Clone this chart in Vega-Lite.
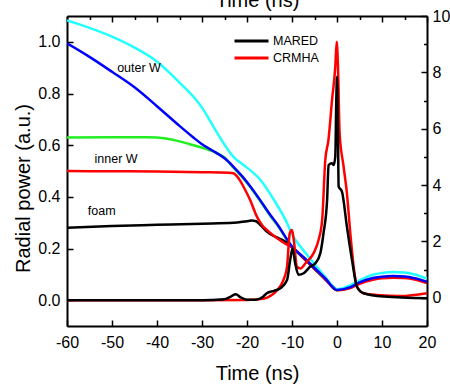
{
  "$schema": "https://vega.github.io/schema/vega-lite/v6.json",
  "width": 360,
  "height": 310,
  "autosize": "none",
  "padding": {"left": 67, "top": 16, "right": 23, "bottom": 59},
  "background": "white",
  "config": {
    "font": "Liberation Sans",
    "view": {"stroke": null},
    "axis": {
      "grid": false,
      "labelFlush": false,
      "labelOverlap": false,
      "domainColor": "#000000",
      "domainWidth": 2,
      "tickColor": "#000000",
      "tickWidth": 1.5,
      "labelFont": "Liberation Sans",
      "labelFontSize": 16,
      "labelColor": "#000000",
      "titleFont": "Liberation Sans",
      "titleFontSize": 20,
      "titleFontWeight": "normal",
      "titleColor": "#000000"
    }
  },
  "datasets": {
    "traj": [
      {"t": -60, "r": 5.69, "s": "inner W (green)"}, {"t": -50, "r": 5.70, "s": "inner W (green)"}, {"t": -42, "r": 5.70, "s": "inner W (green)"}, {"t": -38, "r": 5.65, "s": "inner W (green)"}, {"t": -35, "r": 5.55, "s": "inner W (green)"}, {"t": -32, "r": 5.42, "s": "inner W (green)"}, {"t": -29, "r": 5.28, "s": "inner W (green)"}, {"t": -27, "r": 5.16, "s": "inner W (green)"}, {"t": -25, "r": 4.98, "s": "inner W (green)"}, {"t": -23, "r": 4.62, "s": "inner W (green)"}, {"t": -21, "r": 4.27, "s": "inner W (green)"}, {"t": -19, "r": 3.87, "s": "inner W (green)"}, {"t": -17, "r": 3.42, "s": "inner W (green)"}, {"t": -15, "r": 2.95, "s": "inner W (green)"}, {"t": -13, "r": 2.52, "s": "inner W (green)"}, {"t": -11, "r": 2.02, "s": "inner W (green)"}, {"t": -10, "r": 1.80, "s": "inner W (green)"}, {"t": -7.5, "r": 1.43, "s": "inner W (green)"}, {"t": -5, "r": 1.04, "s": "inner W (green)"}, {"t": -2.5, "r": 0.65, "s": "inner W (green)"}, {"t": 0, "r": 0.27, "s": "inner W (green)"}, {"t": 3, "r": 0.36, "s": "inner W (green)"}, {"t": 5, "r": 0.53, "s": "inner W (green)"}, {"t": 8, "r": 0.68, "s": "inner W (green)"}, {"t": 10, "r": 0.73, "s": "inner W (green)"}, {"t": 12.5, "r": 0.75, "s": "inner W (green)"}, {"t": 15, "r": 0.74, "s": "inner W (green)"}, {"t": 17.5, "r": 0.67, "s": "inner W (green)"}, {"t": 20, "r": 0.55, "s": "inner W (green)"},

      {"t": -60, "r": 2.49, "s": "foam"}, {"t": -50, "r": 2.55, "s": "foam"}, {"t": -40, "r": 2.59, "s": "foam"}, {"t": -30, "r": 2.63, "s": "foam"}, {"t": -23, "r": 2.66, "s": "foam"}, {"t": -20, "r": 2.72, "s": "foam"}, {"t": -19, "r": 2.74, "s": "foam"}, {"t": -18, "r": 2.72, "s": "foam"}, {"t": -17.4, "r": 2.64, "s": "foam"}, {"t": -16.5, "r": 2.50, "s": "foam"}, {"t": -15.6, "r": 2.35, "s": "foam"}, {"t": -13.5, "r": 2.15, "s": "foam"}, {"t": -11.9, "r": 2.03, "s": "foam"}, {"t": -10, "r": 1.80, "s": "foam"}, {"t": -7.5, "r": 1.42, "s": "foam"}, {"t": -5, "r": 1.03, "s": "foam"}, {"t": -2.5, "r": 0.64, "s": "foam"}, {"t": 0, "r": 0.27, "s": "foam"},

      {"t": -60, "r": 4.50, "s": "inner W (red)"}, {"t": -50, "r": 4.49, "s": "inner W (red)"}, {"t": -40, "r": 4.48, "s": "inner W (red)"}, {"t": -30, "r": 4.46, "s": "inner W (red)"}, {"t": -24, "r": 4.44, "s": "inner W (red)"}, {"t": -23, "r": 4.42, "s": "inner W (red)"}, {"t": -22.3, "r": 4.33, "s": "inner W (red)"}, {"t": -21.5, "r": 4.15, "s": "inner W (red)"}, {"t": -20.8, "r": 3.95, "s": "inner W (red)"}, {"t": -19.3, "r": 3.47, "s": "inner W (red)"}, {"t": -17.8, "r": 2.88, "s": "inner W (red)"}, {"t": -16.5, "r": 2.55, "s": "inner W (red)"}, {"t": -15.6, "r": 2.41, "s": "inner W (red)"}, {"t": -13.3, "r": 2.11, "s": "inner W (red)"}, {"t": -11.5, "r": 1.92, "s": "inner W (red)"}, {"t": -10, "r": 1.80, "s": "inner W (red)"}, {"t": -7.5, "r": 1.42, "s": "inner W (red)"}, {"t": -5, "r": 1.03, "s": "inner W (red)"}, {"t": -2.5, "r": 0.64, "s": "inner W (red)"}, {"t": 0, "r": 0.27, "s": "inner W (red)"}, {"t": 3, "r": 0.35, "s": "inner W (red)"}, {"t": 5, "r": 0.50, "s": "inner W (red)"}, {"t": 8, "r": 0.64, "s": "inner W (red)"}, {"t": 10, "r": 0.69, "s": "inner W (red)"}, {"t": 12.5, "r": 0.71, "s": "inner W (red)"}, {"t": 15, "r": 0.70, "s": "inner W (red)"}, {"t": 17.5, "r": 0.64, "s": "inner W (red)"}, {"t": 20, "r": 0.52, "s": "inner W (red)"},

      {"t": -60, "r": 9.84, "s": "outer W (cyan)"}, {"t": -55, "r": 9.58, "s": "outer W (cyan)"}, {"t": -50, "r": 9.27, "s": "outer W (cyan)"}, {"t": -45, "r": 8.88, "s": "outer W (cyan)"}, {"t": -40, "r": 8.38, "s": "outer W (cyan)"}, {"t": -35, "r": 7.64, "s": "outer W (cyan)"}, {"t": -30, "r": 6.75, "s": "outer W (cyan)"}, {"t": -27, "r": 5.95, "s": "outer W (cyan)"}, {"t": -24, "r": 5.20, "s": "outer W (cyan)"}, {"t": -23, "r": 5.0, "s": "outer W (cyan)"}, {"t": -21.5, "r": 4.80, "s": "outer W (cyan)"}, {"t": -20, "r": 4.62, "s": "outer W (cyan)"}, {"t": -17, "r": 4.18, "s": "outer W (cyan)"}, {"t": -14, "r": 3.47, "s": "outer W (cyan)"}, {"t": -11, "r": 2.62, "s": "outer W (cyan)"}, {"t": -10, "r": 2.25, "s": "outer W (cyan)"}, {"t": -7.5, "r": 1.70, "s": "outer W (cyan)"}, {"t": -5, "r": 1.20, "s": "outer W (cyan)"}, {"t": -2.5, "r": 0.72, "s": "outer W (cyan)"}, {"t": 0, "r": 0.30, "s": "outer W (cyan)"}, {"t": 3, "r": 0.45, "s": "outer W (cyan)"}, {"t": 5, "r": 0.62, "s": "outer W (cyan)"}, {"t": 8, "r": 0.82, "s": "outer W (cyan)"}, {"t": 10, "r": 0.88, "s": "outer W (cyan)"}, {"t": 12.5, "r": 0.92, "s": "outer W (cyan)"}, {"t": 15, "r": 0.90, "s": "outer W (cyan)"}, {"t": 17.5, "r": 0.82, "s": "outer W (cyan)"}, {"t": 20, "r": 0.68, "s": "outer W (cyan)"},

      {"t": -60, "r": 9.03, "s": "outer W (blue)"}, {"t": -55, "r": 8.55, "s": "outer W (blue)"}, {"t": -50, "r": 8.02, "s": "outer W (blue)"}, {"t": -45, "r": 7.47, "s": "outer W (blue)"}, {"t": -40, "r": 6.80, "s": "outer W (blue)"}, {"t": -35, "r": 6.10, "s": "outer W (blue)"}, {"t": -32, "r": 5.70, "s": "outer W (blue)"}, {"t": -30, "r": 5.45, "s": "outer W (blue)"}, {"t": -27, "r": 5.16, "s": "outer W (blue)"}, {"t": -25, "r": 4.95, "s": "outer W (blue)"}, {"t": -23, "r": 4.65, "s": "outer W (blue)"}, {"t": -21, "r": 4.30, "s": "outer W (blue)"}, {"t": -19, "r": 3.90, "s": "outer W (blue)"}, {"t": -17, "r": 3.45, "s": "outer W (blue)"}, {"t": -15, "r": 2.98, "s": "outer W (blue)"}, {"t": -13, "r": 2.55, "s": "outer W (blue)"}, {"t": -11, "r": 2.05, "s": "outer W (blue)"}, {"t": -10, "r": 1.82, "s": "outer W (blue)"}, {"t": -7.5, "r": 1.45, "s": "outer W (blue)"}, {"t": -5, "r": 1.06, "s": "outer W (blue)"}, {"t": -2.5, "r": 0.67, "s": "outer W (blue)"}, {"t": 0, "r": 0.28, "s": "outer W (blue)"}, {"t": 3, "r": 0.38, "s": "outer W (blue)"}, {"t": 5, "r": 0.55, "s": "outer W (blue)"}, {"t": 8, "r": 0.70, "s": "outer W (blue)"}, {"t": 10, "r": 0.75, "s": "outer W (blue)"}, {"t": 12.5, "r": 0.77, "s": "outer W (blue)"}, {"t": 15, "r": 0.76, "s": "outer W (blue)"}, {"t": 17.5, "r": 0.69, "s": "outer W (blue)"}, {"t": 20, "r": 0.57, "s": "outer W (blue)"}
    ],
    "power": [
      {"t": -60, "v": 0, "code": "CRMHA"}, {"t": -30, "v": 0, "code": "CRMHA"}, {"t": -20, "v": 0.001, "code": "CRMHA"}, {"t": -17, "v": 0.004, "code": "CRMHA"}, {"t": -15.5, "v": 0.010, "code": "CRMHA"}, {"t": -14.5, "v": 0.020, "code": "CRMHA"}, {"t": -13.3, "v": 0.039, "code": "CRMHA"}, {"t": -11.9, "v": 0.078, "code": "CRMHA"}, {"t": -11.1, "v": 0.13, "code": "CRMHA"}, {"t": -10.5, "v": 0.259, "code": "CRMHA"}, {"t": -10, "v": 0.272, "code": "CRMHA"}, {"t": -9.6, "v": 0.233, "code": "CRMHA"}, {"t": -8.9, "v": 0.13, "code": "CRMHA"}, {"t": -8.1, "v": 0.123, "code": "CRMHA"}, {"t": -7.0, "v": 0.143, "code": "CRMHA"}, {"t": -5.2, "v": 0.182, "code": "CRMHA"}, {"t": -4.1, "v": 0.233, "code": "CRMHA"}, {"t": -3.3, "v": 0.31, "code": "CRMHA"}, {"t": -2.6, "v": 0.543, "code": "CRMHA"}, {"t": -1.9, "v": 0.62, "code": "CRMHA"}, {"t": -1.1, "v": 0.775, "code": "CRMHA"}, {"t": -0.38, "v": 0.904, "code": "CRMHA"}, {"t": -0.07, "v": 1.0, "code": "CRMHA"}, {"t": 0.22, "v": 0.904, "code": "CRMHA"}, {"t": 0.58, "v": 0.646, "code": "CRMHA"}, {"t": 1.47, "v": 0.517, "code": "CRMHA"}, {"t": 2.2, "v": 0.414, "code": "CRMHA"}, {"t": 2.96, "v": 0.259, "code": "CRMHA"}, {"t": 3.7, "v": 0.13, "code": "CRMHA"}, {"t": 4.44, "v": 0.052, "code": "CRMHA"}, {"t": 5.9, "v": 0.027, "code": "CRMHA"}, {"t": 8.9, "v": 0.020, "code": "CRMHA"}, {"t": 14.1, "v": 0.016, "code": "CRMHA"}, {"t": 20, "v": 0.027, "code": "CRMHA"},

      {"t": -60, "v": 0, "code": "MARED"}, {"t": -40, "v": 0, "code": "MARED"}, {"t": -30, "v": 0, "code": "MARED"}, {"t": -25, "v": 0.004, "code": "MARED"}, {"t": -23.5, "v": 0.015, "code": "MARED"}, {"t": -22.5, "v": 0.023, "code": "MARED"}, {"t": -21.5, "v": 0.012, "code": "MARED"}, {"t": -20, "v": 0.002, "code": "MARED"}, {"t": -18, "v": 0.002, "code": "MARED"}, {"t": -16.5, "v": 0.012, "code": "MARED"}, {"t": -15.6, "v": 0.027, "code": "MARED"}, {"t": -14, "v": 0.036, "code": "MARED"}, {"t": -12.6, "v": 0.046, "code": "MARED"}, {"t": -11.1, "v": 0.078, "code": "MARED"}, {"t": -10.4, "v": 0.156, "code": "MARED"}, {"t": -9.87, "v": 0.20, "code": "MARED"}, {"t": -9.3, "v": 0.143, "code": "MARED"}, {"t": -8.55, "v": 0.098, "code": "MARED"}, {"t": -7.4, "v": 0.104, "code": "MARED"}, {"t": -5.93, "v": 0.130, "code": "MARED"}, {"t": -4.8, "v": 0.143, "code": "MARED"}, {"t": -3.7, "v": 0.182, "code": "MARED"}, {"t": -3.0, "v": 0.259, "code": "MARED"}, {"t": -2.2, "v": 0.388, "code": "MARED"}, {"t": -1.87, "v": 0.523, "code": "MARED"}, {"t": -1.1, "v": 0.530, "code": "MARED"}, {"t": -0.75, "v": 0.523, "code": "MARED"}, {"t": -0.38, "v": 0.556, "code": "MARED"}, {"t": -0.16, "v": 0.775, "code": "MARED"}, {"t": 0, "v": 0.865, "code": "MARED"}, {"t": 0.22, "v": 0.646, "code": "MARED"}, {"t": 0.36, "v": 0.44, "code": "MARED"}, {"t": 1.1, "v": 0.42, "code": "MARED"}, {"t": 2.2, "v": 0.285, "code": "MARED"}, {"t": 3.33, "v": 0.156, "code": "MARED"}, {"t": 4.44, "v": 0.052, "code": "MARED"}, {"t": 5.9, "v": 0.027, "code": "MARED"}, {"t": 10.4, "v": 0.014, "code": "MARED"}, {"t": 20, "v": 0.007, "code": "MARED"}
    ],
    "notes": [
      {"t": -44.0, "v": 0.885, "label": "outer W"},
      {"t": -49.1, "v": 0.530, "label": "inner W"},
      {"t": -52.3, "v": 0.330, "label": "foam"}
    ]
  },
  "layer": [
    {
      "data": {"name": "traj"},
      "mark": {"type": "line", "strokeWidth": 2.5, "interpolate": "monotone", "clip": true},
      "encoding": {
        "x": {
          "field": "t", "type": "quantitative",
          "scale": {"domain": [-60, 20], "nice": false, "zero": false},
          "axis": {
            "orient": "top",
            "values": [-60, -55, -50, -45, -40, -35, -30, -25, -20, -15, -10, -5, 0, 5, 10, 15, 20],
            "labels": false,
            "tickSize": {"condition": {"test": "datum.value % 10 === 0", "value": -6}, "value": -3.5},
            "title": "Time (ns)",
            "titleX": 190,
            "titleY": -10,
            "titleBaseline": "alphabetic"
          }
        },
        "y": {
          "field": "r", "type": "quantitative",
          "scale": {"domain": [-1, 10], "nice": false, "zero": false},
          "axis": {
            "orient": "right",
            "values": [0, 1, 2, 3, 4, 5, 6, 7, 8, 9, 10],
            "labelExpr": "datum.value % 2 === 0 ? '' + datum.value : ''",
            "tickSize": {"condition": {"test": "datum.value % 2 === 0", "value": -6}, "value": -3.5},
            "labelPadding": 11,
            "title": null
          }
        },
        "color": {
          "field": "s", "type": "nominal",
          "scale": {
            "domain": ["inner W (green)", "foam", "inner W (red)", "outer W (cyan)", "outer W (blue)"],
            "range": ["#22ee22", "#000000", "#ff0000", "#22ffff", "#0000ff"]
          },
          "legend": null
        }
      }
    },
    {
      "layer": [
        {
          "data": {"name": "power"},
          "mark": {"type": "line", "strokeWidth": 2.5, "interpolate": "monotone", "clip": true},
          "encoding": {
            "x": {
              "field": "t", "type": "quantitative",
              "scale": {"domain": [-60, 20], "nice": false, "zero": false},
              "axis": {
                "orient": "bottom",
                "values": [-60, -55, -50, -45, -40, -35, -30, -25, -20, -15, -10, -5, 0, 5, 10, 15, 20],
                "labelExpr": "datum.value % 10 === 0 ? '' + datum.value : ''",
                "tickSize": {"condition": {"test": "datum.value % 10 === 0", "value": -6}, "value": -3.5},
                "labelPadding": 14,
                "title": "Time (ns)",
                "titleX": 190,
                "titleY": 53,
                "titleBaseline": "alphabetic"
              }
            },
            "y": {
              "field": "v", "type": "quantitative",
              "scale": {"domain": [-0.1, 1.1], "nice": false, "zero": false},
              "axis": {
                "orient": "left",
                "values": [0, 0.1, 0.2, 0.3, 0.4, 0.5, 0.6, 0.7, 0.8, 0.9, 1.0],
                "labelExpr": "round(datum.value * 10) % 2 === 0 ? format(datum.value, '.1f') : ''",
                "tickSize": {"condition": {"test": "round(datum.value * 10) % 2 === 0", "value": -6}, "value": -3.5},
                "labelPadding": 13,
                "title": "Radial power (a.u.)",
                "titleX": -38,
                "titleY": 172,
                "titleBaseline": "alphabetic"
              }
            },
            "color": {
              "field": "code", "type": "nominal",
              "scale": {"domain": ["MARED", "CRMHA"], "range": ["#000000", "#ff0000"]},
              "legend": {
                "orient": "none",
                "legendX": 174.5,
                "legendY": 15,
                "title": null,
                "symbolType": "M-2,0H2",
                "symbolSize": 289,
                "symbolStrokeWidth": 3,
                "labelFont": "Liberation Sans",
                "labelFontSize": 12.5,
                "labelColor": "#000000",
                "labelOffset": 11.5,
                "rowPadding": 0
              }
            }
          }
        },
        {
          "data": {"name": "notes"},
          "mark": {"type": "text", "fontSize": 12.5, "font": "Liberation Sans", "color": "#000000", "align": "center", "baseline": "alphabetic"},
          "encoding": {
            "x": {"field": "t", "type": "quantitative", "scale": {"domain": [-60, 20], "nice": false, "zero": false}},
            "y": {"field": "v", "type": "quantitative", "scale": {"domain": [-0.1, 1.1], "nice": false, "zero": false}},
            "text": {"field": "label"}
          }
        }
      ]
    }
  ],
  "resolve": {
    "scale": {"y": "independent", "color": "independent"},
    "axis": {"x": "independent"}
  }
}
